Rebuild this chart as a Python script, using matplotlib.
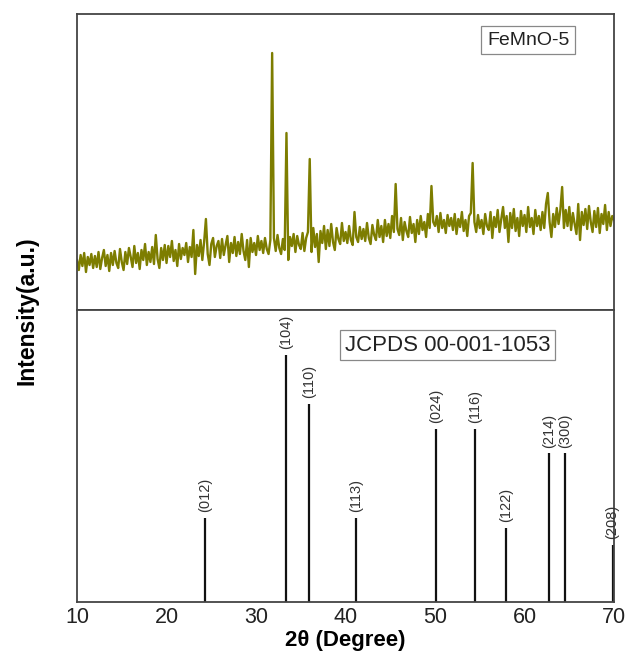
import numpy as np
import matplotlib
matplotlib.use("Agg")
import matplotlib.pyplot as plt

plt.rcParams['font.family'] = ['Liberation Sans', 'DejaVu Sans']

# measured pattern of FeMnO-5, 10-70 deg in 0.2 deg steps (a.u.)
two_theta = np.arange(10.0, 70.0001, 0.2)
intensity = [
    50, 40, 55, 44, 57, 38, 53, 45, 56, 42,
    54, 43, 58, 41, 52, 60, 44, 55, 39, 57,
    45, 59, 47, 42, 61, 48, 40, 58, 46, 62,
    53, 43, 64, 47, 57, 41, 60, 50, 66, 45,
    58, 48, 63, 46, 75, 51, 42, 62, 50, 65,
    47, 64, 53, 69, 49, 60, 44, 66, 51, 62,
    55, 67, 48, 63, 53, 80, 36, 65, 54, 70,
    50, 68, 91, 56, 45, 66, 72, 53, 64, 69,
    52, 71, 55, 65, 74, 48, 67, 57, 73, 54,
    68, 56, 76, 59, 50, 70, 43, 72, 58, 67,
    55, 74, 60, 69, 57, 72, 61, 56, 70, 257,
    72, 59, 75, 62, 56, 71, 60, 177, 50, 73,
    64, 76, 58, 74, 65, 61, 77, 59, 72, 78,
    151, 58, 82, 63, 76, 48, 79, 67, 84, 61,
    80, 64, 86, 68, 60, 82, 71, 66, 87, 69,
    78, 67, 84, 70, 65, 98, 73, 68, 83, 71,
    81, 69, 87, 72, 66, 85, 75, 70, 90, 73,
    84, 68, 90, 74, 86, 72, 94, 78, 126, 81,
    75, 92, 70, 88, 79, 73, 93, 77, 86, 68,
    90, 76, 94, 80, 88, 73, 96, 82, 124, 88,
    84, 94, 78, 97, 82, 90, 77, 95, 84, 92,
    80, 96, 76, 91, 83, 98, 79, 90, 74, 94,
    97, 147, 88, 78, 95, 82, 90, 76, 96, 84,
    80, 98, 72, 93, 83, 100, 78, 91, 103, 82,
    94, 68, 97, 82, 101, 79, 92, 74, 99, 84,
    95, 78, 103, 83, 92, 76, 100, 84, 94, 80,
    98, 82, 106, 117, 88, 73, 96, 83, 102, 86,
    100, 123, 82, 100, 84, 103, 80, 97, 86, 76,
    106, 70, 98, 85, 101, 81, 104, 88, 78, 99,
    83, 102, 77, 96, 86, 105, 80, 98, 84, 94,
    90,
]

# reference card JCPDS 00-001-1053
ref_pos = [24.3, 33.4, 35.9, 41.2, 50.1, 54.5, 57.9, 62.7, 64.5, 69.9]
ref_int = [34, 100, 80, 34, 70, 70, 30, 60, 60, 23]
ref_hkl = ['(012)', '(104)', '(110)', '(113)', '(024)', '(116)',
           '(122)', '(214)', '(300)', '(208)']

xticks = [10, 20, 30, 40, 50, 60, 70]

fig = plt.figure(figsize=(6.35, 6.6), dpi=100)
ax1 = fig.add_axes([0.1213, 0.5303, 0.8457, 0.4485])
ax2 = fig.add_axes([0.1213, 0.088, 0.8457, 0.4423])

frame = '#444444'
for ax in (ax1, ax2):
    for s in ax.spines.values():
        s.set_color(frame)
        s.set_linewidth(1.3)
    ax.set_xlim(10, 70)
    ax.set_yticks([])

# top: measured pattern
ax1.plot(two_theta, intensity, color='#7d7d00', lw=1.7)
ax1.set_ylim(0, 296)
ax1.set_xticks([])
ax1.text(0.84, 0.912, 'FeMnO-5', transform=ax1.transAxes, ha='center',
         va='center', fontsize=14, color='#222222',
         bbox=dict(boxstyle='square,pad=0.3', fc='white', ec='#888888', lw=0.9))

# bottom: reference sticks
ax2.vlines(ref_pos, 0, ref_int, color='#111111', lw=1.6)
for p, h, lab in zip(ref_pos, ref_int, ref_hkl):
    ax2.annotate(lab, (p, h), xytext=(-1 if p > 69 else 0, 4),
                 textcoords='offset points', rotation=90, ha='center',
                 va='bottom', fontsize=10.5, color='#333333')
ax2.set_ylim(0, 118)
ax2.set_xticks(xticks)
ax2.tick_params(axis='x', length=0, pad=4, labelsize=15.5, labelcolor='#222222')
ax2.set_xlabel('2θ (Degree)', fontsize=16, fontweight='bold', labelpad=1)
ax2.text(0.69, 0.88, 'JCPDS 00-001-1053', transform=ax2.transAxes, ha='center',
         va='center', fontsize=16, color='#222222',
         bbox=dict(boxstyle='square,pad=0.22', fc='white', ec='#888888', lw=0.9))

fig.text(0.0425, 0.53, 'Intensity(a.u.)', rotation=90, ha='center', va='center',
         fontsize=16.5, fontweight='bold')

fig.savefig('out.png', dpi=100)
